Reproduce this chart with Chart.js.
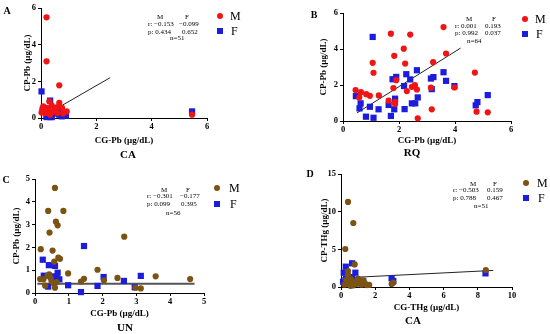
<!DOCTYPE html>
<html>
<head>
<meta charset="utf-8">
<script src="https://cdn.jsdelivr.net/npm/chart.js@4.4.1/dist/chart.umd.min.js"></script>
<style>
  body { margin: 0; background: #fff; width: 550px; height: 334px; position: relative; overflow: hidden; font-family: "Liberation Serif", serif; }
  .panel { position: absolute; width: 275px; height: 167px; }
  .panel canvas { position: absolute; left: 0; top: 0; }
  .t { position: absolute; white-space: nowrap; color: #000; line-height: 1; }
  .stat { font-size: 7px; }
  .lbl { font-size: 10px; font-weight: bold; transform: translate(-50%, -50%); }
  .big { font-size: 12px; transform: translateY(-50%); }
  .dot { position: absolute; width: 6px; height: 6px; border-radius: 50%; transform: translate(-50%, -50%); }
  .sq { position: absolute; width: 6px; height: 6px; transform: translate(-50%, -50%); }
</style>
</head>
<body>
<div class="panel" style="left:0;top:0"><canvas id="chartA" width="275" height="167"></canvas></div>
<div class="panel" style="left:275px;top:0"><canvas id="chartB" width="275" height="167"></canvas></div>
<div class="panel" style="left:0;top:167px"><canvas id="chartC" width="275" height="167"></canvas></div>
<div class="panel" style="left:275px;top:167px"><canvas id="chartD" width="275" height="167"></canvas></div>

<!-- panel letters and group names -->
<div class="t lbl" style="left:7px;top:11px">A</div>
<div class="t lbl" style="left:314px;top:15px">B</div>
<div class="t lbl" style="left:6px;top:180px">C</div>
<div class="t lbl" style="left:310px;top:174px">D</div>
<div class="t lbl" style="left:128px;top:154px;font-size:11px">CA</div>
<div class="t lbl" style="left:412px;top:152px;font-size:11px">RQ</div>
<div class="t lbl" style="left:125px;top:327px;font-size:11px">UN</div>
<div class="t lbl" style="left:413px;top:320px;font-size:11px">CA</div>

<!-- legends -->
<div class="dot" style="left:220px;top:16px;background:#f01414"></div><div class="t big" style="left:230px;top:16px">M</div>
<div class="sq" style="left:220px;top:31px;background:#1c1cdc"></div><div class="t big" style="left:231px;top:31px">F</div>
<div class="dot" style="left:525px;top:19px;background:#f01414"></div><div class="t big" style="left:535px;top:19px">M</div>
<div class="sq" style="left:525px;top:34px;background:#1c1cdc"></div><div class="t big" style="left:536px;top:34px">F</div>
<div class="dot" style="left:217px;top:188px;background:#7b5414"></div><div class="t big" style="left:229px;top:188px">M</div>
<div class="sq" style="left:217px;top:204px;background:#1c1cdc"></div><div class="t big" style="left:230px;top:204px">F</div>
<div class="dot" style="left:526px;top:183px;background:#7b5414"></div><div class="t big" style="left:537px;top:183px">M</div>
<div class="sq" style="left:526px;top:198px;background:#1c1cdc"></div><div class="t big" style="left:538px;top:198px">F</div>

<!-- correlation stats -->
<div class="t stat" style="left:157px;top:14px">M</div><div class="t stat" style="left:185px;top:14px">F</div>
<div class="t stat" style="left:148px;top:21px">r: &minus;0.153</div><div class="t stat" style="left:179px;top:21px">&minus;0.099</div>
<div class="t stat" style="left:148px;top:29px">p: 0.434</div><div class="t stat" style="left:182px;top:29px">0.652</div>
<div class="t stat" style="left:170px;top:35px">n=51</div>

<div class="t stat" style="left:466px;top:16px">M</div><div class="t stat" style="left:492px;top:16px">F</div>
<div class="t stat" style="left:455px;top:23px">r: 0.001</div><div class="t stat" style="left:485px;top:23px">0.193</div>
<div class="t stat" style="left:455px;top:30px">p: 0.992</div><div class="t stat" style="left:485px;top:30px">0.037</div>
<div class="t stat" style="left:467px;top:38px">n=64</div>

<div class="t stat" style="left:161px;top:187px">M</div><div class="t stat" style="left:186px;top:187px">F</div>
<div class="t stat" style="left:147px;top:193px">r: &minus;0.301</div><div class="t stat" style="left:180px;top:193px">&minus;0.177</div>
<div class="t stat" style="left:147px;top:201px">p: 0.099</div><div class="t stat" style="left:181px;top:201px">0.395</div>
<div class="t stat" style="left:166px;top:210px">n=56</div>

<div class="t stat" style="left:470px;top:181px">M</div><div class="t stat" style="left:493px;top:181px">F</div>
<div class="t stat" style="left:453px;top:187px">r: &minus;0.503</div><div class="t stat" style="left:487px;top:187px">0.159</div>
<div class="t stat" style="left:453px;top:195px">p: 0.788</div><div class="t stat" style="left:487px;top:195px">0.467</div>
<div class="t stat" style="left:474px;top:203px">n=51</div>

<script>
// Colours
const red = "#f01414";
const blue = "#1c1cdc";
const brown = "#7b5414";
const serif = "Liberation Serif";

// A: CA, lead (x = CG-Pb, y = CP-Pb)
const caPbMale = [[0.2, 5.49], [0.2, 3.09], [0.66, 1.78], [0.3, 0.91], [0.66, 0.82], [0.08, 0.64], [0.39, 0.67],
  [0.57, 0.58], [0.76, 0.55], [0.93, 0.36], [0.05, 0.42], [0.27, 0.45], [0.45, 0.36], [0.15, 0.27], [0.6, 0.27],
  [0.33, 0.18], [0.8, 0.24], [0.02, 0.3], [0.22, 0.55], [0.5, 0.45], [0.12, 0.5], [5.46, 0.18]];
const caPbFemale = [[0.02, 1.45], [0.33, 0.95], [0.63, 0.4], [0.2, 0.18], [0.33, 0.05], [0.39, 0.05], [0.75, 0.09],
  [0.9, 0.13], [0.06, 0.45], [0.47, 0.24], [0.2, 0.05], [0.66, 0.18], [0.28, 0.1], [5.46, 0.36]];
const caPbFit = [[0.2, 0.2], [2.5, 2.2]];

// B: RQ, lead
const rqPbMale = [[3.59, 5.22], [1.71, 4.85], [2.4, 4.8], [2.17, 4.02], [1.83, 3.62], [1.06, 3.23], [2.22, 3.19],
  [3.22, 3.27], [3.68, 3.75], [1.09, 2.68], [4.71, 2.69], [1.9, 2.27], [1.8, 1.83], [0.45, 1.72], [0.64, 1.6],
  [0.58, 1.31], [0.83, 1.49], [0.96, 1.4], [1.28, 1.42], [2.28, 1.66], [2.46, 1.9], [2.57, 1.99], [2.64, 1.75],
  [3.14, 1.85], [3.98, 1.86], [1.63, 1.13], [1.86, 1.07], [1.86, 0.94], [3.17, 0.65], [2.67, 0.15], [4.77, 0.52],
  [5.17, 0.48]];
const rqPbFemale = [[1.06, 4.67], [2.64, 2.82], [2.26, 2.6], [1.77, 2.32], [1.9, 2.45], [2.4, 2.31], [2.18, 1.94],
  [3.14, 2.36], [3.23, 2.44], [3.59, 2.71], [3.68, 2.23], [3.98, 1.94], [3.17, 1.77], [0.46, 1.38], [0.63, 0.98],
  [0.59, 0.7], [0.96, 0.79], [1.27, 0.65], [1.63, 0.89], [1.86, 1.24], [1.83, 0.65], [2.2, 0.66], [2.46, 0.98],
  [2.58, 0.98], [2.67, 1.31], [1.71, 0.28], [0.82, 0.24], [1.09, 0.18], [4.74, 0.87], [4.8, 1.05], [5.17, 1.44]];
const rqPbFit = [[0.5, 0.45], [4.2, 4.05]];

// C: UN, lead
const unPbMale = [[0.59, 4.61], [0.39, 3.6], [0.84, 3.6], [0.62, 3.13], [0.67, 2.97], [0.43, 2.65], [2.64, 2.47],
  [0.17, 1.92], [0.52, 1.86], [0.69, 1.55], [0.74, 1.5], [0.57, 1.38], [1.85, 1.02], [0.98, 0.86], [0.42, 0.82],
  [2.44, 0.66], [3.57, 0.73], [4.59, 0.61], [1.45, 0.62], [1.36, 0.5], [2.04, 0.55], [0.15, 0.61], [0.25, 0.6],
  [0.3, 0.32], [0.49, 0.51], [0.56, 0.41], [0.59, 0.23], [0.64, 0.48], [2.97, 0.23], [3.13, 0.2], [0.37, 0.76],
  [0.46, 0.66]];
const unPbFemale = [[1.45, 2.06], [0.23, 1.46], [0.41, 1.22], [0.59, 1.19], [0.26, 0.76], [0.67, 0.89], [0.54, 0.73],
  [0.64, 0.67], [0.72, 0.6], [0.39, 0.28], [0.98, 0.34], [1.36, 0.04], [1.85, 0.31], [2.03, 0.7], [2.63, 0.53],
  [3.13, 0.75], [2.95, 0.25], [0.59, 0.48]];
const unPbFit = [[0.07, 0.41], [4.72, 0.41]];

// D: CA, total mercury
const caHgMale = [[0.41, 11.3], [0.72, 8.5], [0.25, 5.05], [0.8, 3.0], [0.41, 2.12], [8.47, 2.26], [3.06, 0.58],
  [1.65, 0.27], [0.3, 0.9], [0.5, 0.6], [0.6, 1.0], [0.9, 0.4], [1.1, 0.7], [1.2, 0.3], [1.4, 0.5], [0.2, 0.3],
  [0.7, 0.2], [1.0, 1.1], [0.41, 1.6], [1.5, 0.25], [0.8, 0.7], [0.35, 0.45], [1.3, 0.9], [0.55, 0.15], [2.96, 0.4]];
const caHgFemale = [[0.65, 3.15], [0.28, 2.7], [0.84, 1.9], [0.16, 1.9], [0.45, 1.29], [2.96, 1.15], [3.06, 0.8],
  [8.45, 1.81], [0.12, 0.7], [0.4, 0.5], [0.65, 1.3], [1.0, 0.9], [0.3, 1.1], [1.3, 0.8], [0.9, 0.5]];
const caHgFit = [[0.05, 1.2], [8.9, 2.2]];

const toPoints = arr => arr.map(p => ({ x: p[0], y: p[1] }));

// Builds one scatter panel; the plot box is fixed through padding and axis sizes
function drawPanel(id, opts) {
  const tickFont = { family: serif, size: 8.5, weight: "bold" };
  const titleFont = { family: serif, size: 9, weight: "bold" };
  const axisGrid = { display: true, drawOnChartArea: false, drawTicks: true, tickLength: 3, color: "#000" };

  new Chart(document.getElementById(id), {
    type: "scatter",
    data: {
      datasets: [
        { data: toPoints(opts.male), backgroundColor: opts.maleColor, borderWidth: 0, pointStyle: "circle", pointRadius: 3.1, clip: false },
        { data: toPoints(opts.female), backgroundColor: blue, borderWidth: 0, pointStyle: "rect", pointRadius: 4.4, clip: false },
        { type: "line", data: toPoints(opts.fit), borderColor: opts.fitColor, borderWidth: opts.fitWidth, pointRadius: 0, fill: false, clip: false }
      ]
    },
    options: {
      responsive: false,
      animation: false,
      events: [],
      layout: { padding: { top: opts.top, right: opts.right, left: 0, bottom: 0 } },
      plugins: { legend: { display: false }, tooltip: { enabled: false } },
      scales: {
        x: {
          type: "linear", min: 0, max: opts.xMax,
          border: { color: "#000", width: 1 },
          grid: axisGrid,
          ticks: { stepSize: opts.xStep, padding: 1, color: "#000", font: tickFont },
          title: { display: true, text: opts.xTitle, color: "#000", font: titleFont, padding: { top: 0, bottom: opts.xTitlePad } },
          afterFit: s => { s.height = opts.xHeight; }
        },
        y: {
          type: "linear", min: 0, max: opts.yMax,
          border: { color: "#000", width: 1 },
          grid: axisGrid,
          ticks: { stepSize: opts.yStep, padding: 2, color: "#000", font: tickFont },
          title: { display: true, text: opts.yTitle, color: "#000", font: titleFont, padding: { top: opts.yTitlePad, bottom: 0 } },
          afterFit: s => { s.width = opts.yWidth; }
        }
      }
    }
  });
}

drawPanel("chartA", {
  male: caPbMale, female: caPbFemale, fit: caPbFit, maleColor: red, fitColor: "#222", fitWidth: 1,
  xMax: 6, xStep: 2, yMax: 6, yStep: 2, xTitle: "CG-Pb (µg/dL)", yTitle: "CP-Pb (µg/dL)",
  top: 8, right: 68, yWidth: 41, xHeight: 49, xTitlePad: 21, yTitlePad: 22
});
drawPanel("chartB", {
  male: rqPbMale, female: rqPbFemale, fit: rqPbFit, maleColor: red, fitColor: "#222", fitWidth: 1,
  xMax: 6, xStep: 2, yMax: 6, yStep: 2, xTitle: "CG-Pb (µg/dL)", yTitle: "CP-Pb (µg/dL)",
  top: 13, right: 39, yWidth: 68, xHeight: 46, xTitlePad: 21, yTitlePad: 43
});
drawPanel("chartC", {
  male: unPbMale, female: unPbFemale, fit: unPbFit, maleColor: brown, fitColor: "#555", fitWidth: 2,
  xMax: 5, xStep: 1, yMax: 5, yStep: 1, xTitle: "CG-Pb (µg/dL)", yTitle: "CP-Pb (µg/dL)",
  top: 12, right: 71, yWidth: 35, xHeight: 41, xTitlePad: 15, yTitlePad: 11
});
drawPanel("chartD", {
  male: caHgMale, female: caHgFemale, fit: caHgFit, maleColor: brown, fitColor: "#222", fitWidth: 1,
  xMax: 10, xStep: 2, yMax: 15, yStep: 5, xTitle: "CG-THg (µg/dL)", yTitle: "CP-THg (µg/dL)",
  top: 7, right: 38, yWidth: 66, xHeight: 47, xTitlePad: 21, yTitlePad: 44
});
</script>
</body>
</html>
